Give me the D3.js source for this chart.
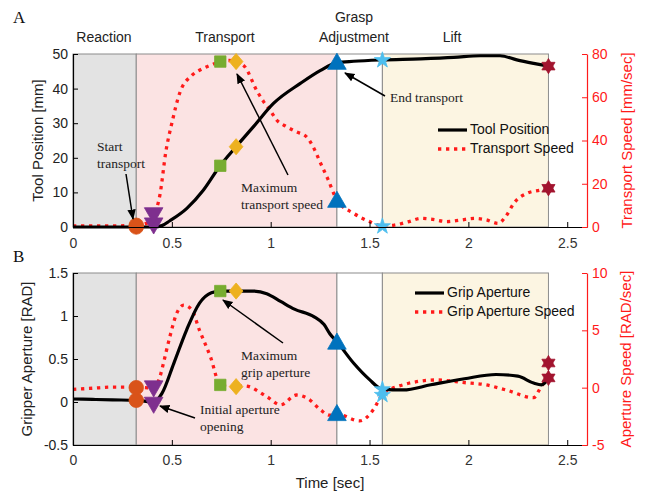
<!DOCTYPE html>
<html><head><meta charset="utf-8">
<script src="https://cdn.jsdelivr.net/npm/d3@7"></script>
<style>
body{margin:0;background:#fff;}
svg text{font-family:"Liberation Sans",Arial,sans-serif;}
.serif{font-family:"Liberation Serif","Times New Roman",serif !important;}
</style></head>
<body><svg id="c" width="657" height="493"></svg>
<script>
// ---------- data ----------
const phaseNames = ["Reaction","Transport","Grasp Adjustment","Lift"];
const phaseStart = [0, 0.32, 1.335, 1.565];
const phaseEnd   = [0.32, 1.335, 1.565, 2.405];
const phaseFill  = ["#e3e3e3","#fbe3e3","#ffffff","#fcf5e2"];
const xTicks = [0, 0.5, 1, 1.5, 2, 2.5];

// Panel A: tool position [mm]
const posT = [0,0.1,0.2,0.32,0.41,0.45,0.49,0.576,0.66,0.744,0.825,0.913,1.014,1.15,1.25,1.335,1.42,1.565,1.757,1.926,2.06,2.16,2.245,2.33,2.405];
const posV = [0,0,0,0,0,0.4,1.8,5.4,10.7,17.7,23.2,29,35.7,41.5,45.2,47.5,47.9,48.3,48.6,49.0,49.5,49.5,48.3,47.3,46.5];
// Panel A: transport speed [mm/sec]
const tspT = [0,0.1,0.2,0.32,0.38,0.41,0.44,0.47,0.5,0.54,0.6,0.64,0.7,0.745,0.79,0.825,0.87,0.93,0.964,0.997,1.03,1.08,1.13,1.18,1.215,1.25,1.29,1.335,1.42,1.5,1.565,1.62,1.7,1.76,1.82,1.89,1.96,2.03,2.09,2.15,2.19,2.23,2.3,2.36,2.405];
const tspV = [0.5,0.5,0.5,0.8,2,5.5,15,35,48,62,70,72.5,75,76.5,77,76.5,74,63,58,54,49.5,46.4,44,41.8,37,30,22,12.5,6.3,2.5,0.5,0.8,2.5,4,3.5,2.5,3.2,4,3.3,1.7,5,11,15.7,17,17.9];

// Panel B: grip aperture [RAD]
const apT = [0,0.1,0.2,0.32,0.408,0.45,0.51,0.575,0.64,0.7,0.745,0.825,0.91,0.98,1.05,1.12,1.22,1.27,1.30,1.335,1.42,1.5,1.563,1.67,1.81,1.98,2.14,2.25,2.33,2.37,2.405];
const apV = [0.035,0.03,0.025,0.02,0.0,0.1,0.45,0.84,1.15,1.27,1.29,1.29,1.29,1.26,1.17,1.08,0.99,0.9,0.79,0.70,0.45,0.26,0.15,0.14,0.2,0.27,0.32,0.3,0.22,0.2,0.27];
// Panel B: grip aperture speed [RAD/sec]
const asT = [0,0.1,0.2,0.32,0.408,0.44,0.457,0.49,0.525,0.56,0.6,0.64,0.695,0.745,0.79,0.825,0.87,0.98,1.05,1.13,1.2,1.25,1.30,1.335,1.45,1.52,1.563,1.64,1.84,1.98,2.09,2.19,2.33,2.37,2.405];
const asV = [-0.15,-0.05,0.05,0.05,-0.05,0.96,2.1,4.45,6.5,7.2,6.8,5.0,2.7,0.24,0.1,0.09,0.15,-0.78,-1.5,-0.64,-1.1,-1.9,-2.4,-2.3,-2.9,-1.9,-0.64,0.09,0.67,0.44,0.24,-0.2,-0.87,0.15,0.85];

// event markers (times, and values on each curve)
const evtT    = [0.32, 0.408, 0.745, 0.825, 1.335, 1.565, 2.405];
const evtPos  = [0, 0.5, 17.7, 23.2, 47.7, 48.2, 46.5];
const evtTsp  = [0.8, 5.5, 76.5, 76.5, 12.5, 0.3, 17.9];
const evtAp   = [0.02, -0.03, 1.29, 1.29, 0.70, 0.147, 0.28];
const evtAsp  = [0.0, -0.05, 0.24, 0.09, -2.23, -0.64, 2.15];
const evtColor = ["#D95319","#7E2F8E","#77AC30","#EDB120","#0072BD","#4DBEEE","#A2142F"];
const evtShape = ["circle","triDown","square","diamond","triUp","star","hexagram"];

const yTicksA = [0,10,20,30,40,50], yTicksAR = [0,20,40,60,80];
const yTicksB = [-0.5,0,0.5,1,1.5], yTicksBR = [-5,0,5,10];

// ---------- drawing ----------
const svg = d3.select("#c");
const x = d3.scaleLinear().domain([0,2.6]).range([73,587]);
const RED = "#ff1a1a";

const hexagram = {draw(ctx, size){
  const r = Math.sqrt(size)*0.62;
  for (let k=0;k<2;k++){
    const off = k? Math.PI/2 : -Math.PI/2;
    for (let i=0;i<3;i++){
      const a = off + i*2*Math.PI/3;
      const px = r*Math.cos(a), py = r*Math.sin(a);
      i===0? ctx.moveTo(px,py) : ctx.lineTo(px,py);
    }
    ctx.closePath();
  }
}};
const wideDiamond = {draw(ctx, size){
  const h = Math.sqrt(size)*0.66, w = h*0.85;
  ctx.moveTo(0,-h); ctx.lineTo(w,0); ctx.lineTo(0,h); ctx.lineTo(-w,0); ctx.closePath();
}};
function symPath(shape){
  switch(shape){
    case "circle": return d3.symbol(d3.symbolCircle,165)();
    case "triDown": return d3.symbol(d3.symbolTriangle,150)();
    case "triUp": return d3.symbol(d3.symbolTriangle,150)();
    case "square": return d3.symbol(d3.symbolSquare,130)();
    case "diamond": return d3.symbol(wideDiamond,150)();
    case "star": return d3.symbol(d3.symbolStar,80)();
    case "hexagram": return d3.symbol(hexagram,150)();
  }
}

function panel(o){
  const yL = d3.scaleLinear().domain(o.yLdom).range([o.bottom,o.top]);
  const yR = d3.scaleLinear().domain(o.yRdom).range([o.bottom,o.top]);
  const g = svg.append("g");
  // phase patches
  phaseNames.forEach((p,i)=>{
    g.append("rect").attr("x",x(phaseStart[i])).attr("y",o.top)
      .attr("width",x(phaseEnd[i])-x(phaseStart[i])).attr("height",o.bottom-o.top)
      .attr("fill",phaseFill[i]).attr("stroke","#8c8c8c").attr("stroke-width",1);
  });
  // lines
  const lineL = d3.line().x((d,i)=>x(o.lT[i])).y(d=>yL(d)).curve(d3.curveMonotoneX);
  const lineR = d3.line().x((d,i)=>x(o.rT[i])).y(d=>yR(d)).curve(d3.curveMonotoneX);
  g.append("path").attr("d",lineR(o.rV)).attr("fill","none").attr("stroke",RED)
    .attr("stroke-width",3.3).attr("stroke-dasharray","3.3,4.7");
  g.append("path").attr("d",lineL(o.lV)).attr("fill","none").attr("stroke","#000")
    .attr("stroke-width",3.2);
  // markers
  evtT.forEach((t,i)=>{
    [[yL(o.mL[i])],[yR(o.mR[i])]].forEach(([yy])=>{
      const rot = evtShape[i]==="triDown"?180:0;
      const dy = evtShape[i]==="triDown"? -2 : (evtShape[i]==="triUp"? 2:0);
      g.append("path").attr("d",symPath(evtShape[i]))
        .attr("transform",`translate(${x(t)},${yy+dy}) rotate(${rot})`)
        .attr("fill",evtColor[i]).attr("stroke",evtColor[i]).attr("stroke-width",0.8);
    });
  });
  // axes
  const ax = g.append("g").attr("transform",`translate(0,${o.bottom})`)
    .call(d3.axisBottom(x).tickValues(xTicks).tickSizeInner(-5).tickSizeOuter(0).tickPadding(o.xpad).tickFormat(d=>d));
  const al = g.append("g").attr("transform",`translate(${x(0)},0)`)
    .call(d3.axisLeft(yL).tickValues(o.yLt).tickSizeInner(-5).tickSizeOuter(0).tickPadding(5).tickFormat(d=>d));
  const ar = g.append("g").attr("transform",`translate(${x(2.6)},0)`)
    .call(d3.axisRight(yR).tickValues(o.yRt).tickSizeInner(-5).tickSizeOuter(0).tickPadding(5).tickFormat(d=>d));
  [ax,al].forEach(a=>{a.selectAll("text").attr("font-size",14).attr("fill","#222");
    a.select(".domain").attr("stroke","#000").attr("stroke-width",1.2);
    a.selectAll(".tick line").attr("stroke","#000");});
  ax.selectAll("text").attr("fill","#333");
  ar.selectAll("text").attr("font-size",14).attr("fill",RED);
  ar.select(".domain").attr("stroke",RED).attr("stroke-width",1.2);
  ar.selectAll(".tick line").attr("stroke",RED);
  // axis labels
  g.append("text").attr("transform",`translate(${o.lLabX},${(o.top+o.bottom)/2}) rotate(-90)`)
    .attr("text-anchor","middle").attr("dominant-baseline","middle").attr("font-size",15).attr("fill","#222").text(o.lLab);
  g.append("text").attr("transform",`translate(${o.rLabX},${(o.top+o.bottom)/2}) rotate(-90)`)
    .attr("text-anchor","middle").attr("dominant-baseline","middle").attr("font-size",15).attr("fill",RED).text(o.rLab);
  // legend
  const lg = g.append("g");
  lg.append("line").attr("x1",o.legX).attr("x2",o.legX+29).attr("y1",o.legY).attr("y2",o.legY)
    .attr("stroke","#000").attr("stroke-width",3.2);
  lg.append("line").attr("x1",o.legX).attr("x2",o.legX+29).attr("y1",o.legY+19).attr("y2",o.legY+19)
    .attr("stroke",RED).attr("stroke-width",3.3).attr("stroke-dasharray","3.3,4.7");
  lg.append("text").attr("x",o.legX+32).attr("y",o.legY).attr("dominant-baseline","middle")
    .attr("font-size",14).attr("fill","#111").text(o.leg[0]);
  lg.append("text").attr("x",o.legX+32).attr("y",o.legY+19).attr("dominant-baseline","middle")
    .attr("font-size",14).attr("fill","#111").text(o.leg[1]);
  return {g,yL,yR};
}

const A = panel({top:54,bottom:227,yLdom:[0,50],yRdom:[0,80],lT:posT,lV:posV,rT:tspT,rV:tspV,
  mL:evtPos,mR:evtTsp,yLt:yTicksA,yRt:yTicksAR,xpad:11,lLab:"Tool Position [mm]",lLabX:39,
  rLab:"Transport Speed [mm/sec]",rLabX:628,legX:438,legY:130,leg:["Tool Position","Transport Speed"]});
const B = panel({top:273,bottom:445,yLdom:[-0.5,1.5],yRdom:[-5,10],lT:apT,lV:apV,rT:asT,rV:asV,
  mL:evtAp,mR:evtAsp,yLt:yTicksB,yRt:yTicksBR,xpad:10,lLab:"Gripper Aperture [RAD]",lLabX:28,
  rLab:"Aperture Speed [RAD/sec]",rLabX:627,legX:415,legY:293,leg:["Grip Aperture","Grip Aperture Speed"]});

// phase labels
const phLab = [[104,42,"Reaction"],[225,42,"Transport"],[354,22,"Grasp"],[354,42,"Adjustment"],[452,42,"Lift"]];
phLab.forEach(([px,py,t])=>svg.append("text").attr("x",px).attr("y",py).attr("text-anchor","middle")
  .attr("font-size",14).attr("fill","#222").text(t));
// panel letters
svg.append("text").attr("class","serif").attr("x",13).attr("y",23).attr("font-size",17).attr("fill","#111").text("A");
svg.append("text").attr("class","serif").attr("x",13).attr("y",262).attr("font-size",17).attr("fill","#111").text("B");
// time label
svg.append("text").attr("x",330).attr("y",488).attr("text-anchor","middle").attr("font-size",15).attr("fill","#222").text("Time [sec]");

// annotations
svg.append("defs").append("marker").attr("id","ah").attr("viewBox","0 0 10 10").attr("refX",9).attr("refY",5)
  .attr("markerWidth",7).attr("markerHeight",7).attr("orient","auto")
  .append("path").attr("d","M0,1 L10,5 L0,9 Z").attr("fill","#000");
const notes = [
  {lines:["Start","transport"],x:97,y:151,from:[126,174],to:[133,219]},
  {lines:["Maximum","transport speed"],x:241,y:192,from:[288,175],to:[237,74]},
  {lines:["End transport"],x:390,y:102,from:[385,96],to:[345,73]},
  {lines:["Maximum","grip aperture"],x:241,y:360,from:[283,343],to:[223,300]},
  {lines:["Initial aperture","opening"],x:200,y:414,from:[195,418],to:[160,406]}
];
notes.forEach(n=>{
  n.lines.forEach((l,i)=>svg.append("text").attr("class","serif").attr("x",n.x).attr("y",n.y+i*17)
    .attr("font-size",13.5).attr("fill","#222").text(l));
  svg.append("line").attr("x1",n.from[0]).attr("y1",n.from[1]).attr("x2",n.to[0]).attr("y2",n.to[1])
    .attr("stroke","#000").attr("stroke-width",1.5).attr("marker-end","url(#ah)");
});
</script></body></html>
